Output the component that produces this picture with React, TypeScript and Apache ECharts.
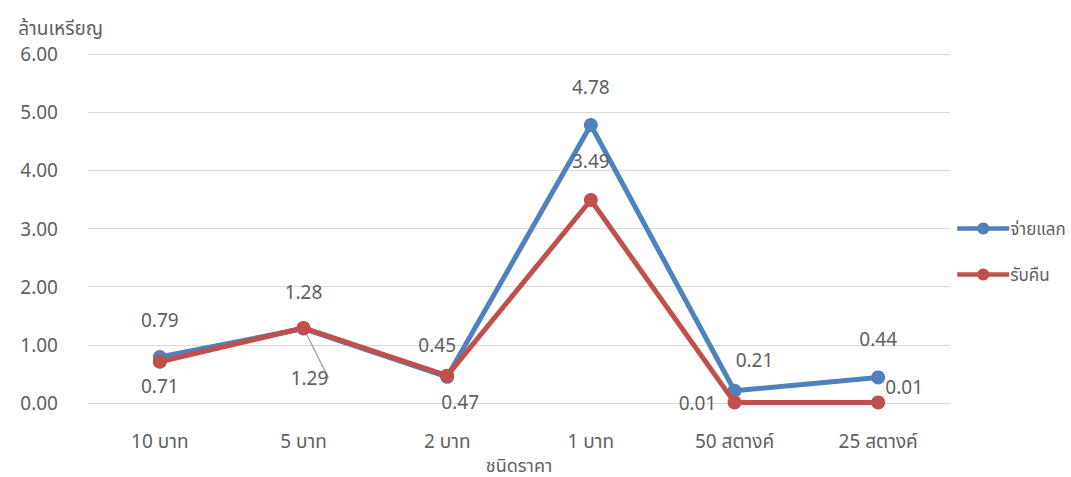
import React, { useEffect, useRef } from "react";
import * as echarts from "echarts";

const categories = ["10 บาท", "5 บาท", "2 บาท", "1 บาท", "50 สตางค์", "25 สตางค์"];
const seriesNames = ["จ่ายแลก", "รับคืน"];
const payValues = [0.79, 1.28, 0.45, 4.78, 0.21, 0.44];
const returnValues = [0.71, 1.29, 0.47, 3.49, 0.01, 0.01];
const yTicks = { min: 0, max: 6, interval: 1 };

// label offsets (style only)
const payOffsets = [[0, -37], [0, -37], [-10, -32], [0, -38], [20, -31], [0, -38]];
const returnOffsets = [[0, 24], [6, 50], [13, 26], [0, -39], [-37, 1], [26, -15]];
const returnLeader = [false, true, false, false, false, false];

const FONT = "'Noto Sans', 'Noto Sans Thai', 'Leelawadee UI', sans-serif";
const GRAY = "#5f5f5f";

export default function App() {
  const ref = useRef<HTMLDivElement>(null);
  useEffect(() => {
    const chart = echarts.init(ref.current!, null, { renderer: "svg" });
    const mk = (vals: number[], offs: number[][], leader?: boolean[]) =>
      vals.map((v, i) => ({
        value: v,
        label: { offset: offs[i] },
        labelLine: { show: !!(leader && leader[i]) },
      }));
    chart.setOption({
      animation: false,
      textStyle: { fontFamily: FONT },
      grid: { left: 88, right: 121, top: 54, bottom: 74, outerBoundsMode: "none", containLabel: false },
      legend: {
        orient: "vertical",
        left: 950,
        top: 215,
        itemWidth: 52,
        itemHeight: 15,
        itemGap: 29,
        data: seriesNames,
        lineStyle: { width: 4.5 },
        textStyle: { color: GRAY, fontSize: 17, fontFamily: FONT, padding: [0, 0, 0, -4] },
      },
      xAxis: {
        type: "category",
        data: categories,
        name: "ชนิดราคา",
        nameLocation: "middle",
        nameGap: 50,
        nameTextStyle: { color: GRAY, fontSize: 18, lineHeight: 20, fontFamily: FONT },
        axisLine: { lineStyle: { color: "#D9D9D9", width: 1 } },
        axisTick: { show: false },
        axisLabel: { color: GRAY, fontSize: 19, margin: 28, fontFamily: FONT },
      },
      yAxis: {
        type: "value",
        min: yTicks.min,
        max: yTicks.max,
        interval: yTicks.interval,
        name: "ล้านเหรียญ",
        nameLocation: "end",
        nameGap: 17,
        nameTextStyle: { color: GRAY, fontSize: 19, fontFamily: FONT, align: "right", padding: [0, -15, 0, 0] },
        axisLine: { show: false },
        axisTick: { show: false },
        axisLabel: { color: GRAY, fontSize: 19, margin: 30, fontFamily: FONT, formatter: (v: number) => v.toFixed(2) },
        splitLine: { lineStyle: { color: "#D9D9D9", width: 1 } },
      },
      series: [
        {
          name: seriesNames[0],
          type: "line",
          data: mk(payValues, payOffsets),
          color: "#4F81BD",
          lineStyle: { width: 5 },
          symbol: "circle",
          symbolSize: 14,
          label: {
            show: true,
            position: "inside",
            color: GRAY,
            fontSize: 19,
            fontFamily: FONT,
            formatter: (p: any) => p.value.toFixed(2),
          },
          z: 2,
        },
        {
          name: seriesNames[1],
          type: "line",
          data: mk(returnValues, returnOffsets, returnLeader),
          color: "#C0504D",
          lineStyle: { width: 5 },
          symbol: "circle",
          symbolSize: 14,
          label: {
            show: true,
            position: "inside",
            color: GRAY,
            fontSize: 19,
            fontFamily: FONT,
            formatter: (p: any) => p.value.toFixed(2),
          },
          labelLine: { lineStyle: { color: "#A6A6A6", width: 1.5 } },
          z: 3,
        },
      ],
    });
    return () => chart.dispose();
  }, []);
  return <div ref={ref} style={{ width: 1071, height: 477, position: "absolute", left: 0, top: 0 }} />;
}
